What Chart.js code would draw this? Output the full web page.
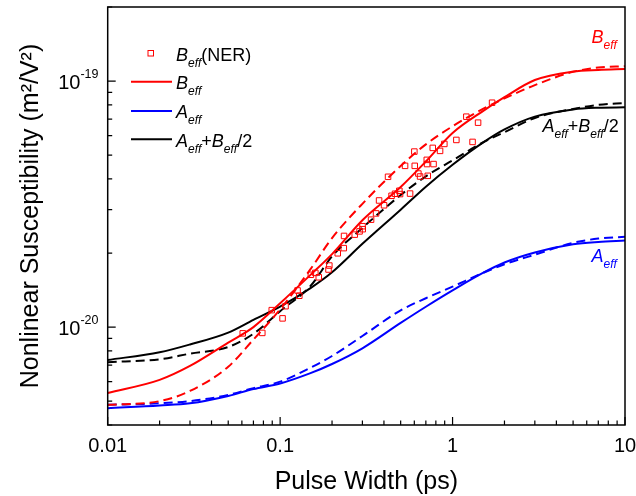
<!DOCTYPE html>
<html>
<head>
<meta charset="utf-8">
<script src="https://cdn.jsdelivr.net/npm/chart.js@4.4.1/dist/chart.umd.min.js"></script>
<style>
  html, body { margin: 0; padding: 0; background: #ffffff; }
  #wrap { width: 636px; height: 496px; }
</style>
</head>
<body>
<div id="wrap"><canvas id="c" width="636" height="496"></canvas></div>
<script>
// ---- Data ----
const pulseWidths = [0.01, 0.02, 0.03, 0.05, 0.07, 0.1, 0.15, 0.2, 0.3, 0.5, 0.7, 1, 1.5, 2, 3, 5, 7, 10];

const beffSolid = [5.4e-21, 6.1e-21, 6.95e-21, 8.65e-21, 1.0e-20, 1.25e-20, 1.63e-20, 1.98e-20, 2.72e-20, 3.71e-20, 4.71e-20, 6.15e-20, 7.55e-20, 8.6e-20, 1.01e-19, 1.093e-19, 1.11e-19, 1.119e-19];
const beffDashed = [4.83e-21, 5.0e-21, 5.5e-21, 6.9e-21, 8.9e-21, 1.18e-20, 1.72e-20, 2.3e-20, 3.17e-20, 4.52e-20, 5.53e-20, 6.55e-20, 7.7e-20, 8.5e-20, 9.63e-20, 1.09e-19, 1.135e-19, 1.15e-19];

const aeffSolid = [4.68e-21, 4.8e-21, 4.9e-21, 5.25e-21, 5.6e-21, 5.9e-21, 6.5e-21, 7.08e-21, 8.2e-21, 1.04e-20, 1.21e-20, 1.41e-20, 1.66e-20, 1.83e-20, 2.01e-20, 2.17e-20, 2.22e-20, 2.25e-20];
const aeffDashed = [4.83e-21, 4.9e-21, 5.0e-21, 5.3e-21, 5.65e-21, 6.0e-21, 6.84e-21, 7.63e-21, 9.2e-21, 1.17e-20, 1.31e-20, 1.46e-20, 1.66e-20, 1.8e-20, 1.97e-20, 2.2e-20, 2.29e-20, 2.33e-20];

const sumSolid = [7.35e-21, 7.9e-21, 8.5e-21, 9.5e-21, 1.07e-20, 1.21e-20, 1.44e-20, 1.67e-20, 2.18e-20, 3.0e-20, 3.72e-20, 4.57e-20, 5.62e-20, 6.36e-20, 7.17e-20, 7.67e-20, 7.79e-20, 7.82e-20];
const sumDashed = [7.2e-21, 7.4e-21, 7.8e-21, 8.3e-21, 9.4e-21, 1.16e-20, 1.47e-20, 1.94e-20, 2.53e-20, 3.44e-20, 4.1e-20, 4.76e-20, 5.63e-20, 6.2e-20, 7.08e-20, 7.7e-20, 8.0e-20, 8.15e-20];

const nerX = [0.0607, 0.0788, 0.0894, 0.1033, 0.1075, 0.1262, 0.1292, 0.1507, 0.160, 0.1675,
              0.1929, 0.1908, 0.2158, 0.2339, 0.2348, 0.2708, 0.2888, 0.3006, 0.3014, 0.3368,
              0.360, 0.3748, 0.4005, 0.4225, 0.4429, 0.4639, 0.4914, 0.496, 0.5303, 0.567,
              0.6003, 0.6035, 0.6333, 0.6479, 0.7086, 0.7115, 0.7181, 0.7757, 0.7675, 0.8463,
              0.896, 1.052, 1.306, 1.202, 1.406, 1.695];
const nerY = [9.43e-21, 9.47e-21, 1.172e-20, 1.085e-20, 1.216e-20, 1.409e-20, 1.341e-20, 1.632e-20, 1.661e-20, 1.594e-20,
              1.779e-20, 1.714e-20, 1.995e-20, 2.094e-20, 2.347e-20, 2.376e-20, 2.449e-20, 2.571e-20, 2.5e-20, 2.733e-20,
              2.898e-20, 3.271e-20, 3.127e-20, 4.082e-20, 3.418e-20, 3.483e-20, 3.582e-20, 3.473e-20, 4.523e-20, 3.489e-20,
              5.169e-20, 4.523e-20, 4.209e-20, 4.093e-20, 4.783e-20, 4.599e-20, 4.12e-20, 4.599e-20, 5.35e-20, 5.203e-20,
              5.553e-20, 5.764e-20, 5.658e-20, 7.165e-20, 6.776e-20, 8.166e-20];

const xMajorTicks = [0.01, 0.1, 1, 10];
const xTickLabels = ['0.01', '0.1', '1', '10'];
const yMajorTicks = [1e-20, 1e-19];
const yTickExponents = ['-20', '-19'];

const xTitle = 'Pulse Width (ps)';
const yTitle = 'Nonlinear Susceptibility (m\u00B2/V\u00B2)';

const RED = '#ff0000', BLUE = '#0000ff', BLACK = '#000000';
const FONT = '"Liberation Sans", Arial, Helvetica, sans-serif';

function pts(xs, ys) { return xs.map((x, i) => ({ x: x, y: ys[i] })); }

function lineDs(label, ys, color, dashed) {
  return {
    label: label, data: pts(pulseWidths, ys), showLine: true,
    borderColor: color, backgroundColor: color, borderWidth: 2,
    borderDash: dashed ? [9, 5] : [], pointRadius: 0, pointHoverRadius: 0,
    cubicInterpolationMode: 'monotone', fill: false, order: 2
  };
}

function drawRich(ctx, x, y, parts, color) {
  let cx = x;
  ctx.fillStyle = color;
  ctx.textBaseline = 'alphabetic';
  ctx.textAlign = 'left';
  for (const p of parts) {
    ctx.font = (p.i ? 'italic ' : '') + p.s + 'px ' + FONT;
    ctx.fillText(p.t, cx, y + (p.dy || 0));
    cx += ctx.measureText(p.t).width;
  }
}
const BIG = 18, SUB = 12, SUBDY = 6;
const Beff = [{ t: 'B', i: true, s: BIG }, { t: 'eff', i: true, s: SUB, dy: SUBDY }];
const Aeff = [{ t: 'A', i: true, s: BIG }, { t: 'eff', i: true, s: SUB, dy: SUBDY }];
const Sum = [].concat(Aeff, [{ t: '+', s: BIG }], Beff, [{ t: '/2', s: BIG }]);

const decor = {
  id: 'decor',
  afterDraw(chart) {
    const ctx = chart.ctx, a = chart.chartArea;
    const xs = chart.scales.x, ys = chart.scales.y;
    ctx.save();
    // frame
    ctx.strokeStyle = '#000'; ctx.lineWidth = 1.5; ctx.setLineDash([]);
    ctx.strokeRect(a.left, a.top, a.right - a.left, a.bottom - a.top);
    // x ticks (inward)
    ctx.lineWidth = 1.2;
    ctx.beginPath();
    for (let d = -2; d <= 0; d++) {
      for (let m = 1; m <= 10; m++) {
        const v = m * Math.pow(10, d);
        const px = xs.getPixelForValue(v);
        const len = (m === 1 || m === 10) ? 8 : 4.5;
        ctx.moveTo(px, a.bottom); ctx.lineTo(px, a.bottom - len);
      }
    }
    // y ticks (inward)
    for (let d = -21; d <= -19; d++) {
      for (let m = 1; m <= 9; m++) {
        const v = m * Math.pow(10, d);
        if (v < ys.min * 0.999 || v > ys.max * 1.001) continue;
        const py = ys.getPixelForValue(v);
        const len = (m === 1) ? 8 : 4.5;
        ctx.moveTo(a.left, py); ctx.lineTo(a.left + len, py);
      }
    }
    ctx.stroke();
    // x tick labels
    ctx.fillStyle = '#000';
    ctx.font = '20px ' + FONT;
    ctx.textAlign = 'center'; ctx.textBaseline = 'alphabetic';
    xMajorTicks.forEach((v, i) => {
      ctx.fillText(xTickLabels[i], xs.getPixelForValue(v), 452);
    });
    // y tick labels 10^exp
    yMajorTicks.forEach((v, i) => {
      const py = ys.getPixelForValue(v);
      ctx.font = '12.5px ' + FONT;
      const wSup = ctx.measureText(yTickExponents[i]).width;
      ctx.font = '20px ' + FONT;
      const wBase = ctx.measureText('10').width;
      const right = 98.5;
      ctx.textAlign = 'left';
      ctx.fillText('10', right - wSup - wBase, py + 8);
      ctx.font = '12.5px ' + FONT;
      ctx.fillText(yTickExponents[i], right - wSup, py - 3.5);
    });
    // axis titles
    ctx.font = '25px ' + FONT;
    ctx.textAlign = 'center';
    ctx.fillText(xTitle, (a.left + a.right) / 2, 489);
    ctx.save();
    ctx.translate(38, (a.top + a.bottom) / 2);
    ctx.rotate(-Math.PI / 2);
    ctx.fillText(yTitle, 0, 0);
    ctx.restore();
    // legend
    ctx.strokeStyle = RED; ctx.lineWidth = 1;
    ctx.strokeRect(148, 50.5, 5.5, 5.5);
    drawRich(ctx, 176, 61, [{ t: 'B', i: true, s: BIG }, { t: 'eff', i: true, s: SUB, dy: SUBDY }, { t: '(NER)', s: BIG }], BLACK);
    const legendLines = [[RED, 81.7, Beff], [BLUE, 111, Aeff], [BLACK, 139.3, Sum]];
    legendLines.forEach(([c, y, parts]) => {
      ctx.strokeStyle = c; ctx.lineWidth = 2;
      ctx.beginPath(); ctx.moveTo(131, y); ctx.lineTo(172, y); ctx.stroke();
      drawRich(ctx, 176, y + 7.4, parts, BLACK);
    });
    // curve annotations
    drawRich(ctx, 591.5, 42.7, Beff, RED);
    drawRich(ctx, 542.5, 131.7, Sum, BLACK);
    drawRich(ctx, 591.5, 261.7, Aeff, BLUE);
    ctx.restore();
  }
};

new Chart(document.getElementById('c'), {
  type: 'scatter',
  data: {
    datasets: [
      {
        label: 'Beff(NER)', data: pts(nerX, nerY), showLine: false,
        pointStyle: 'rect', pointRadius: 3.9, pointBorderWidth: 1,
        pointBorderColor: RED, pointBackgroundColor: 'rgba(255,255,255,0)', order: 1
      },
      lineDs('Beff', beffSolid, RED, false),
      lineDs('Beff fit', beffDashed, RED, true),
      lineDs('Aeff', aeffSolid, BLUE, false),
      lineDs('Aeff fit', aeffDashed, BLUE, true),
      lineDs('Aeff+Beff/2', sumSolid, BLACK, false),
      lineDs('Aeff+Beff/2 fit', sumDashed, BLACK, true)
    ]
  },
  options: {
    responsive: false, animation: false, devicePixelRatio: 1,
    layout: { padding: { top: 7, right: 11, left: 0, bottom: 0 } },
    plugins: { legend: { display: false }, tooltip: { enabled: false } },
    scales: {
      x: {
        type: 'logarithmic', min: 0.01, max: 10,
        grid: { display: false }, border: { display: false },
        ticks: { display: false },
        afterFit(s) { s.height = 71; }
      },
      y: {
        type: 'logarithmic', min: 4e-21, max: 2e-19,
        grid: { display: false }, border: { display: false },
        ticks: { display: false },
        afterFit(s) { s.width = 107.7; }
      }
    }
  },
  plugins: [decor]
});
</script>
</body>
</html>
